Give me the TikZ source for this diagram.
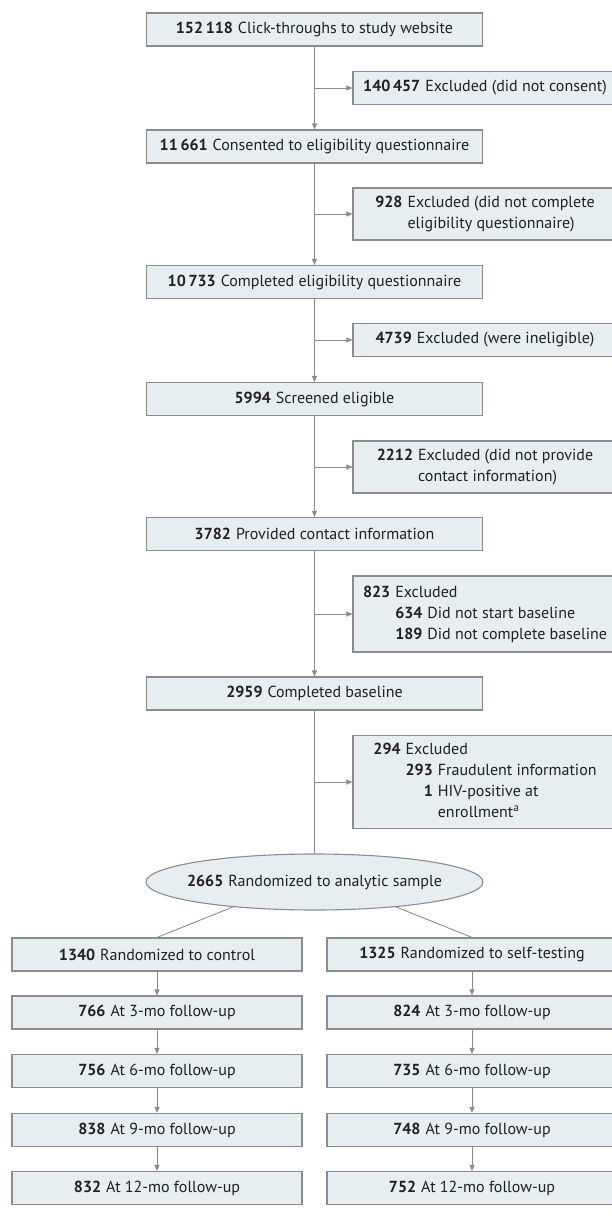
\documentclass[tikz,border=0pt]{standalone}
\usepackage{fontspec}
\setmainfont{PT Sans}
\usetikzlibrary{shapes.geometric,arrows.meta}
\definecolor{boxfill}{HTML}{E6EEF2}
\definecolor{boxline}{HTML}{8C8C8C}
\definecolor{txt}{HTML}{231F20}
\newcommand{\fnum}[1]{\textbf{#1}\hspace{5pt}}

\begin{document}
\begin{tikzpicture}[x=1pt,y=-1pt,
    mainbox/.style={draw=boxline, fill=boxfill, line width=1.1pt, minimum width=336pt,
        minimum height=33pt, inner sep=0pt, text=txt, font=\fontsize{16}{21}\selectfont},
    exbox/.style={mainbox, minimum width=264pt},
    armbox/.style={mainbox, minimum width=290pt},
    link/.style={draw=boxline, line width=0.9pt},
    arrow/.style={link, -{Triangle[length=6pt,width=5pt]}}]
    \useasboundingbox (0,0) rectangle (612,1222);

    % Main column
    \node[mainbox] (n1) at (314.5,29.5) {\fnum{152\,118}Click-throughs to study website};
    \node[mainbox] (n2) at (314.5,146.5) {\fnum{11\,661}Consented to eligibility questionnaire};
    \node[mainbox] (n3) at (314.5,282) {\fnum{10\,733}Completed eligibility questionnaire};
    \node[mainbox] (n4) at (314.5,399) {\fnum{5994}Screened eligible};
    \node[mainbox] (n5) at (314.5,534) {\fnum{3782}Provided contact information};
    \node[mainbox] (n6) at (314.5,693.5) {\fnum{2959}Completed baseline};
    \node[mainbox, ellipse, inner xsep=-20pt, minimum width=337pt, minimum height=56pt] (ell)
        at (314.5,882) {\fnum{2665}Randomized to analytic sample};

    % Exclusions
    \node[exbox] (e1) at (485,88) {\fnum{140\,457}Excluded (did not consent)};
    \node[exbox, minimum height=52pt] (e2) at (485,214) {\begin{tabular}{@{}r@{\hspace{5pt}}l@{}}
        \textbf{928} & Excluded (did not complete\\ & eligibility questionnaire)\end{tabular}};
    \node[exbox] (e3) at (485,340) {\fnum{4739}Excluded (were ineligible)};
    \node[exbox, minimum height=52pt] (e4) at (485,467) {\begin{tabular}{@{}r@{\hspace{5pt}}l@{}}
        \textbf{2212} & Excluded (did not provide\\ & contact information)\end{tabular}};
    \node[exbox, minimum height=76pt] (e5) at (485,614) {\begin{tabular}{@{}r@{\hspace{5pt}}l@{}}
        \textbf{823} & Excluded\\
        & \fnum{634}Did not start baseline\\
        & \fnum{189}Did not complete baseline\end{tabular}};
    \node[exbox, minimum height=93pt] (e6) at (485,782) {\begin{tabular}{@{}r@{\hspace{5pt}}l@{}}
        \textbf{294} & Excluded\\
        & \fnum{293}Fraudulent information\\
        & \fnum{\phantom{29}1}HIV-positive at\\
        & \fnum{\phantom{293}}enrollment\textsuperscript{a}\end{tabular}};

    % Control arm
    \node[armbox] (c1) at (157,954.5) {\fnum{1340}Randomized to control};
    \node[armbox] (c2) at (157,1012.5) {\fnum{766}At 3-mo follow-up};
    \node[armbox] (c3) at (157,1071) {\fnum{756}At 6-mo follow-up};
    \node[armbox] (c4) at (157,1130) {\fnum{838}At 9-mo follow-up};
    \node[armbox] (c5) at (157,1188) {\fnum{832}At 12-mo follow-up};

    % Self-testing arm
    \node[armbox] (s1) at (472,954.5) {\fnum{1325}Randomized to self-testing};
    \node[armbox] (s2) at (472,1012.5) {\fnum{824}At 3-mo follow-up};
    \node[armbox] (s3) at (472,1071) {\fnum{735}At 6-mo follow-up};
    \node[armbox] (s4) at (472,1130) {\fnum{748}At 9-mo follow-up};
    \node[armbox] (s5) at (472,1188) {\fnum{752}At 12-mo follow-up};

    % Branch points on the main line
    \coordinate (b1) at (n1.south |- e1.west);
    \coordinate (b2) at (n2.south |- e2.west);
    \coordinate (b3) at (n3.south |- e3.west);
    \coordinate (b4) at (n4.south |- e4.west);
    \coordinate (b5) at (n5.south |- e5.west);
    \coordinate (b6) at (n6.south |- e6.west);

    % Connectors
    \draw[arrow] (n1) -- (n2);
    \draw[arrow] (n2) -- (n3);
    \draw[arrow] (n3) -- (n4);
    \draw[arrow] (n4) -- (n5);
    \draw[arrow] (n5) -- (n6);
    \draw[link] (n6) -- (ell);
    \draw[arrow] (b1) -- (e1);
    \draw[arrow] (b2) -- (e2);
    \draw[arrow] (b3) -- (e3);
    \draw[arrow] (b4) -- (e4);
    \draw[arrow] (b5) -- (e5);
    \draw[arrow] (b6) -- (e6);
    \draw[link] (ell.197) -- (c1.north);
    \draw[link] (ell.-17) -- (s1.north);
    \draw[arrow] (c1) -- (c2);
    \draw[arrow] (c2) -- (c3);
    \draw[arrow] (c3) -- (c4);
    \draw[arrow] (c4) -- (c5);
    \draw[arrow] (s1) -- (s2);
    \draw[arrow] (s2) -- (s3);
    \draw[arrow] (s3) -- (s4);
    \draw[arrow] (s4) -- (s5);

\end{tikzpicture}
\end{document}
